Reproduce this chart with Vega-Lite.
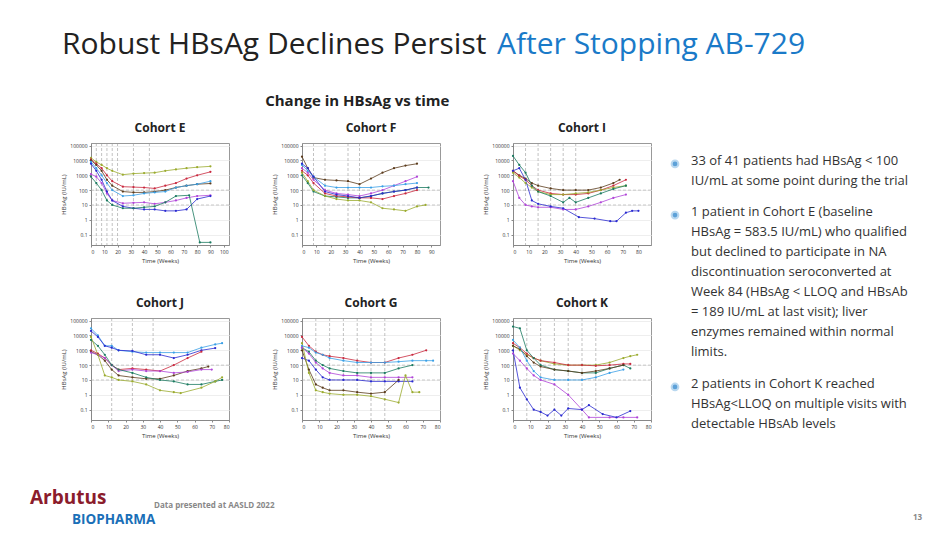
{
  "$schema": "https://vega.github.io/schema/vega-lite/v6.json",
  "background": "white",
  "padding": {"left": 8, "top": 20, "right": 10, "bottom": 0},
  "config": {
    "font": "Open Sans",
    "view": {"stroke": null},
    "axis": {"labelFontSize": 5, "titleFontSize": 6, "titleFontWeight": "normal", "labelColor": "#333", "titleColor": "#333", "grid": true, "gridColor": "#eee", "tickSize": 2, "domainColor": "#888", "titlePadding": 3},
    "text": {"lineBreak": "\n"}
  },
  "resolve": {"scale": {"color": "independent", "x": "independent", "y": "independent", "size": "independent"}},
  "datasets": {
    "d": [
      {"c":"E","k":"end","w":104},{"c":"F","k":"end","w":96},{"c":"I","k":"end","w":88},{"c":"J","k":"end","w":80},{"c":"G","k":"end","w":80},{"c":"K","k":"end","w":80},
      {"c":"E","k":"vl","w":4},{"c":"E","k":"vl","w":8},{"c":"E","k":"vl","w":12},{"c":"E","k":"vl","w":16},{"c":"E","k":"vl","w":20},{"c":"E","k":"vl","w":32},{"c":"E","k":"vl","w":44},
      {"c":"F","k":"vl","w":8},{"c":"F","k":"vl","w":16},{"c":"F","k":"vl","w":32},{"c":"F","k":"vl","w":40},
      {"c":"I","k":"vl","w":8},{"c":"I","k":"vl","w":16},{"c":"I","k":"vl","w":24},{"c":"I","k":"vl","w":32},{"c":"I","k":"vl","w":40},
      {"c":"J","k":"vl","w":12},{"c":"J","k":"vl","w":24},{"c":"J","k":"vl","w":36},
      {"c":"G","k":"vl","w":8},{"c":"G","k":"vl","w":16},{"c":"G","k":"vl","w":24},{"c":"G","k":"vl","w":32},{"c":"G","k":"vl","w":40},{"c":"G","k":"vl","w":48},
      {"c":"K","k":"vl","w":8},{"c":"K","k":"vl","w":16},{"c":"K","k":"vl","w":24},{"c":"K","k":"vl","w":32},{"c":"K","k":"vl","w":40},{"c":"K","k":"vl","w":48},

      {"c":"E","k":"p","s":"a","w":0,"v":15000},{"c":"E","k":"p","s":"a","w":4,"v":8000},{"c":"E","k":"p","s":"a","w":8,"v":5000},{"c":"E","k":"p","s":"a","w":12,"v":3000},{"c":"E","k":"p","s":"a","w":16,"v":2000},{"c":"E","k":"p","s":"a","w":24,"v":1100},{"c":"E","k":"p","s":"a","w":32,"v":1300},{"c":"E","k":"p","s":"a","w":40,"v":1400},{"c":"E","k":"p","s":"a","w":48,"v":1500},{"c":"E","k":"p","s":"a","w":56,"v":2000},{"c":"E","k":"p","s":"a","w":64,"v":2500},{"c":"E","k":"p","s":"a","w":72,"v":3000},{"c":"E","k":"p","s":"a","w":80,"v":3500},{"c":"E","k":"p","s":"a","w":90,"v":4000},
      {"c":"E","k":"p","s":"b","w":0,"v":12000},{"c":"E","k":"p","s":"b","w":4,"v":6000},{"c":"E","k":"p","s":"b","w":8,"v":3000},{"c":"E","k":"p","s":"b","w":12,"v":1000},{"c":"E","k":"p","s":"b","w":16,"v":400},{"c":"E","k":"p","s":"b","w":24,"v":170},{"c":"E","k":"p","s":"b","w":32,"v":160},{"c":"E","k":"p","s":"b","w":40,"v":150},{"c":"E","k":"p","s":"b","w":48,"v":130},{"c":"E","k":"p","s":"b","w":56,"v":200},{"c":"E","k":"p","s":"b","w":64,"v":300},{"c":"E","k":"p","s":"b","w":72,"v":600},{"c":"E","k":"p","s":"b","w":80,"v":1000},{"c":"E","k":"p","s":"b","w":90,"v":1700},
      {"c":"E","k":"p","s":"c","w":0,"v":10000},{"c":"E","k":"p","s":"c","w":4,"v":5000},{"c":"E","k":"p","s":"c","w":8,"v":2000},{"c":"E","k":"p","s":"c","w":12,"v":500},{"c":"E","k":"p","s":"c","w":16,"v":200},{"c":"E","k":"p","s":"c","w":24,"v":80},{"c":"E","k":"p","s":"c","w":32,"v":70},{"c":"E","k":"p","s":"c","w":40,"v":70},{"c":"E","k":"p","s":"c","w":48,"v":80},{"c":"E","k":"p","s":"c","w":56,"v":100},{"c":"E","k":"p","s":"c","w":64,"v":150},{"c":"E","k":"p","s":"c","w":72,"v":200},{"c":"E","k":"p","s":"c","w":80,"v":250},{"c":"E","k":"p","s":"c","w":90,"v":280},
      {"c":"E","k":"p","s":"d","w":0,"v":8000},{"c":"E","k":"p","s":"d","w":4,"v":3000},{"c":"E","k":"p","s":"d","w":8,"v":1000},{"c":"E","k":"p","s":"d","w":12,"v":300},{"c":"E","k":"p","s":"d","w":16,"v":100},{"c":"E","k":"p","s":"d","w":24,"v":40},{"c":"E","k":"p","s":"d","w":32,"v":45},{"c":"E","k":"p","s":"d","w":40,"v":60},{"c":"E","k":"p","s":"d","w":48,"v":70},{"c":"E","k":"p","s":"d","w":56,"v":80},{"c":"E","k":"p","s":"d","w":64,"v":150},{"c":"E","k":"p","s":"d","w":72,"v":200},{"c":"E","k":"p","s":"d","w":80,"v":250},{"c":"E","k":"p","s":"d","w":90,"v":400},
      {"c":"E","k":"p","s":"e","w":0,"v":1200},{"c":"E","k":"p","s":"e","w":4,"v":800},{"c":"E","k":"p","s":"e","w":8,"v":300},{"c":"E","k":"p","s":"e","w":12,"v":60},{"c":"E","k":"p","s":"e","w":16,"v":20},{"c":"E","k":"p","s":"e","w":24,"v":13},{"c":"E","k":"p","s":"e","w":32,"v":14},{"c":"E","k":"p","s":"e","w":40,"v":15},{"c":"E","k":"p","s":"e","w":48,"v":12},{"c":"E","k":"p","s":"e","w":56,"v":15},{"c":"E","k":"p","s":"e","w":64,"v":20},{"c":"E","k":"p","s":"e","w":72,"v":30},{"c":"E","k":"p","s":"e","w":80,"v":40},{"c":"E","k":"p","s":"e","w":90,"v":45},
      {"c":"E","k":"p","s":"f","w":0,"v":6000},{"c":"E","k":"p","s":"f","w":4,"v":2000},{"c":"E","k":"p","s":"f","w":8,"v":500},{"c":"E","k":"p","s":"f","w":12,"v":80},{"c":"E","k":"p","s":"f","w":16,"v":20},{"c":"E","k":"p","s":"f","w":24,"v":8},{"c":"E","k":"p","s":"f","w":32,"v":6},{"c":"E","k":"p","s":"f","w":40,"v":5},{"c":"E","k":"p","s":"f","w":48,"v":5},{"c":"E","k":"p","s":"f","w":56,"v":4},{"c":"E","k":"p","s":"f","w":64,"v":4},{"c":"E","k":"p","s":"f","w":72,"v":5},{"c":"E","k":"p","s":"f","w":80,"v":25},{"c":"E","k":"p","s":"f","w":90,"v":40},
      {"c":"E","k":"p","s":"g","w":0,"v":800},{"c":"E","k":"p","s":"g","w":4,"v":300},{"c":"E","k":"p","s":"g","w":8,"v":100},{"c":"E","k":"p","s":"g","w":12,"v":20},{"c":"E","k":"p","s":"g","w":16,"v":10},{"c":"E","k":"p","s":"g","w":24,"v":6},{"c":"E","k":"p","s":"g","w":32,"v":6},{"c":"E","k":"p","s":"g","w":40,"v":7},{"c":"E","k":"p","s":"g","w":48,"v":8},{"c":"E","k":"p","s":"g","w":56,"v":15},{"c":"E","k":"p","s":"g","w":64,"v":40},{"c":"E","k":"p","s":"g","w":74,"v":45},{"c":"E","k":"p","s":"g","w":82,"v":0.03},{"c":"E","k":"p","s":"g","w":90,"v":0.03},

      {"c":"F","k":"p","s":"c","w":0,"v":18000},{"c":"F","k":"p","s":"c","w":4,"v":3000},{"c":"F","k":"p","s":"c","w":8,"v":700},{"c":"F","k":"p","s":"c","w":16,"v":500},{"c":"F","k":"p","s":"c","w":24,"v":450},{"c":"F","k":"p","s":"c","w":32,"v":400},{"c":"F","k":"p","s":"c","w":40,"v":250},{"c":"F","k":"p","s":"c","w":48,"v":600},{"c":"F","k":"p","s":"c","w":56,"v":1500},{"c":"F","k":"p","s":"c","w":64,"v":3000},{"c":"F","k":"p","s":"c","w":72,"v":4500},{"c":"F","k":"p","s":"c","w":80,"v":6000},
      {"c":"F","k":"p","s":"e","w":0,"v":3000},{"c":"F","k":"p","s":"e","w":4,"v":1500},{"c":"F","k":"p","s":"e","w":8,"v":500},{"c":"F","k":"p","s":"e","w":16,"v":100},{"c":"F","k":"p","s":"e","w":24,"v":60},{"c":"F","k":"p","s":"e","w":32,"v":50},{"c":"F","k":"p","s":"e","w":40,"v":40},{"c":"F","k":"p","s":"e","w":48,"v":60},{"c":"F","k":"p","s":"e","w":56,"v":100},{"c":"F","k":"p","s":"e","w":64,"v":200},{"c":"F","k":"p","s":"e","w":72,"v":400},{"c":"F","k":"p","s":"e","w":80,"v":800},
      {"c":"F","k":"p","s":"d","w":0,"v":5000},{"c":"F","k":"p","s":"d","w":4,"v":2000},{"c":"F","k":"p","s":"d","w":8,"v":800},{"c":"F","k":"p","s":"d","w":16,"v":200},{"c":"F","k":"p","s":"d","w":24,"v":150},{"c":"F","k":"p","s":"d","w":32,"v":150},{"c":"F","k":"p","s":"d","w":40,"v":150},{"c":"F","k":"p","s":"d","w":48,"v":150},{"c":"F","k":"p","s":"d","w":56,"v":180},{"c":"F","k":"p","s":"d","w":64,"v":200},{"c":"F","k":"p","s":"d","w":72,"v":250},{"c":"F","k":"p","s":"d","w":80,"v":300},
      {"c":"F","k":"p","s":"g","w":0,"v":1000},{"c":"F","k":"p","s":"g","w":4,"v":300},{"c":"F","k":"p","s":"g","w":8,"v":80},{"c":"F","k":"p","s":"g","w":16,"v":40},{"c":"F","k":"p","s":"g","w":24,"v":35},{"c":"F","k":"p","s":"g","w":32,"v":30},{"c":"F","k":"p","s":"g","w":40,"v":30},{"c":"F","k":"p","s":"g","w":48,"v":40},{"c":"F","k":"p","s":"g","w":56,"v":60},{"c":"F","k":"p","s":"g","w":64,"v":80},{"c":"F","k":"p","s":"g","w":72,"v":100},{"c":"F","k":"p","s":"g","w":80,"v":150},{"c":"F","k":"p","s":"g","w":88,"v":150},
      {"c":"F","k":"p","s":"b","w":0,"v":2000},{"c":"F","k":"p","s":"b","w":4,"v":1000},{"c":"F","k":"p","s":"b","w":8,"v":300},{"c":"F","k":"p","s":"b","w":16,"v":60},{"c":"F","k":"p","s":"b","w":24,"v":40},{"c":"F","k":"p","s":"b","w":32,"v":35},{"c":"F","k":"p","s":"b","w":40,"v":30},{"c":"F","k":"p","s":"b","w":48,"v":30},{"c":"F","k":"p","s":"b","w":56,"v":25},{"c":"F","k":"p","s":"b","w":64,"v":40},{"c":"F","k":"p","s":"b","w":72,"v":60},{"c":"F","k":"p","s":"b","w":80,"v":100},
      {"c":"F","k":"p","s":"a","w":0,"v":1500},{"c":"F","k":"p","s":"a","w":4,"v":400},{"c":"F","k":"p","s":"a","w":8,"v":100},{"c":"F","k":"p","s":"a","w":16,"v":40},{"c":"F","k":"p","s":"a","w":24,"v":25},{"c":"F","k":"p","s":"a","w":32,"v":20},{"c":"F","k":"p","s":"a","w":40,"v":20},{"c":"F","k":"p","s":"a","w":48,"v":15},{"c":"F","k":"p","s":"a","w":56,"v":6},{"c":"F","k":"p","s":"a","w":64,"v":5},{"c":"F","k":"p","s":"a","w":72,"v":4},{"c":"F","k":"p","s":"a","w":80,"v":8},{"c":"F","k":"p","s":"a","w":86,"v":10},
      {"c":"F","k":"p","s":"f","w":0,"v":6000},{"c":"F","k":"p","s":"f","w":4,"v":3000},{"c":"F","k":"p","s":"f","w":8,"v":800},{"c":"F","k":"p","s":"f","w":16,"v":80},{"c":"F","k":"p","s":"f","w":24,"v":50},{"c":"F","k":"p","s":"f","w":32,"v":40},{"c":"F","k":"p","s":"f","w":40,"v":30},{"c":"F","k":"p","s":"f","w":48,"v":40},{"c":"F","k":"p","s":"f","w":56,"v":60},{"c":"F","k":"p","s":"f","w":64,"v":80},{"c":"F","k":"p","s":"f","w":72,"v":100},{"c":"F","k":"p","s":"f","w":80,"v":150},

      {"c":"I","k":"p","s":"c","w":0,"v":2000},{"c":"I","k":"p","s":"c","w":4,"v":1000},{"c":"I","k":"p","s":"c","w":8,"v":600},{"c":"I","k":"p","s":"c","w":12,"v":300},{"c":"I","k":"p","s":"c","w":16,"v":200},{"c":"I","k":"p","s":"c","w":24,"v":130},{"c":"I","k":"p","s":"c","w":32,"v":100},{"c":"I","k":"p","s":"c","w":40,"v":100},{"c":"I","k":"p","s":"c","w":48,"v":100},{"c":"I","k":"p","s":"c","w":56,"v":150},{"c":"I","k":"p","s":"c","w":64,"v":300},{"c":"I","k":"p","s":"c","w":68,"v":500},
      {"c":"I","k":"p","s":"b","w":0,"v":2000},{"c":"I","k":"p","s":"b","w":4,"v":900},{"c":"I","k":"p","s":"b","w":8,"v":500},{"c":"I","k":"p","s":"b","w":12,"v":200},{"c":"I","k":"p","s":"b","w":16,"v":100},{"c":"I","k":"p","s":"b","w":24,"v":60},{"c":"I","k":"p","s":"b","w":32,"v":50},{"c":"I","k":"p","s":"b","w":40,"v":50},{"c":"I","k":"p","s":"b","w":48,"v":60},{"c":"I","k":"p","s":"b","w":56,"v":100},{"c":"I","k":"p","s":"b","w":64,"v":200},{"c":"I","k":"p","s":"b","w":72,"v":500},
      {"c":"I","k":"p","s":"a","w":0,"v":1500},{"c":"I","k":"p","s":"a","w":4,"v":700},{"c":"I","k":"p","s":"a","w":8,"v":300},{"c":"I","k":"p","s":"a","w":12,"v":150},{"c":"I","k":"p","s":"a","w":16,"v":80},{"c":"I","k":"p","s":"a","w":24,"v":50},{"c":"I","k":"p","s":"a","w":32,"v":50},{"c":"I","k":"p","s":"a","w":40,"v":60},{"c":"I","k":"p","s":"a","w":48,"v":70},{"c":"I","k":"p","s":"a","w":56,"v":100},{"c":"I","k":"p","s":"a","w":64,"v":150},{"c":"I","k":"p","s":"a","w":72,"v":200},
      {"c":"I","k":"p","s":"g","w":0,"v":20000},{"c":"I","k":"p","s":"g","w":4,"v":5000},{"c":"I","k":"p","s":"g","w":8,"v":1500},{"c":"I","k":"p","s":"g","w":12,"v":200},{"c":"I","k":"p","s":"g","w":16,"v":80},{"c":"I","k":"p","s":"g","w":24,"v":40},{"c":"I","k":"p","s":"g","w":32,"v":15},{"c":"I","k":"p","s":"g","w":36,"v":30},{"c":"I","k":"p","s":"g","w":40,"v":15},{"c":"I","k":"p","s":"g","w":48,"v":30},{"c":"I","k":"p","s":"g","w":56,"v":60},{"c":"I","k":"p","s":"g","w":64,"v":120},{"c":"I","k":"p","s":"g","w":72,"v":200},
      {"c":"I","k":"p","s":"e","w":0,"v":400},{"c":"I","k":"p","s":"e","w":4,"v":30},{"c":"I","k":"p","s":"e","w":8,"v":10},{"c":"I","k":"p","s":"e","w":12,"v":8},{"c":"I","k":"p","s":"e","w":16,"v":7},{"c":"I","k":"p","s":"e","w":24,"v":7},{"c":"I","k":"p","s":"e","w":32,"v":5},{"c":"I","k":"p","s":"e","w":40,"v":5},{"c":"I","k":"p","s":"e","w":48,"v":8},{"c":"I","k":"p","s":"e","w":56,"v":15},{"c":"I","k":"p","s":"e","w":64,"v":30},{"c":"I","k":"p","s":"e","w":72,"v":50},
      {"c":"I","k":"p","s":"f","w":0,"v":2000},{"c":"I","k":"p","s":"f","w":4,"v":3000},{"c":"I","k":"p","s":"f","w":8,"v":500},{"c":"I","k":"p","s":"f","w":12,"v":20},{"c":"I","k":"p","s":"f","w":16,"v":12},{"c":"I","k":"p","s":"f","w":24,"v":8},{"c":"I","k":"p","s":"f","w":32,"v":6},{"c":"I","k":"p","s":"f","w":42,"v":1.5},{"c":"I","k":"p","s":"f","w":52,"v":1.2},{"c":"I","k":"p","s":"f","w":62,"v":0.8},{"c":"I","k":"p","s":"f","w":66,"v":0.8},{"c":"I","k":"p","s":"f","w":72,"v":3},{"c":"I","k":"p","s":"f","w":76,"v":4},{"c":"I","k":"p","s":"f","w":80,"v":4},

      {"c":"J","k":"p","s":"d","w":0,"v":30000},{"c":"J","k":"p","s":"d","w":4,"v":10000},{"c":"J","k":"p","s":"d","w":8,"v":2000},{"c":"J","k":"p","s":"d","w":12,"v":2000},{"c":"J","k":"p","s":"d","w":16,"v":1000},{"c":"J","k":"p","s":"d","w":24,"v":800},{"c":"J","k":"p","s":"d","w":32,"v":700},{"c":"J","k":"p","s":"d","w":40,"v":700},{"c":"J","k":"p","s":"d","w":48,"v":700},{"c":"J","k":"p","s":"d","w":56,"v":700},{"c":"J","k":"p","s":"d","w":64,"v":1500},{"c":"J","k":"p","s":"d","w":72,"v":2500},{"c":"J","k":"p","s":"d","w":76,"v":3000},
      {"c":"J","k":"p","s":"f","w":0,"v":20000},{"c":"J","k":"p","s":"f","w":4,"v":8000},{"c":"J","k":"p","s":"f","w":8,"v":2000},{"c":"J","k":"p","s":"f","w":12,"v":1500},{"c":"J","k":"p","s":"f","w":16,"v":1000},{"c":"J","k":"p","s":"f","w":24,"v":900},{"c":"J","k":"p","s":"f","w":32,"v":500},{"c":"J","k":"p","s":"f","w":40,"v":500},{"c":"J","k":"p","s":"f","w":48,"v":300},{"c":"J","k":"p","s":"f","w":56,"v":500},{"c":"J","k":"p","s":"f","w":64,"v":1000},{"c":"J","k":"p","s":"f","w":72,"v":1400},
      {"c":"J","k":"p","s":"b","w":0,"v":1000},{"c":"J","k":"p","s":"b","w":4,"v":600},{"c":"J","k":"p","s":"b","w":8,"v":300},{"c":"J","k":"p","s":"b","w":12,"v":100},{"c":"J","k":"p","s":"b","w":16,"v":50},{"c":"J","k":"p","s":"b","w":24,"v":60},{"c":"J","k":"p","s":"b","w":32,"v":50},{"c":"J","k":"p","s":"b","w":40,"v":40},{"c":"J","k":"p","s":"b","w":48,"v":100},{"c":"J","k":"p","s":"b","w":56,"v":300},{"c":"J","k":"p","s":"b","w":64,"v":800},
      {"c":"J","k":"p","s":"c","w":0,"v":800},{"c":"J","k":"p","s":"c","w":4,"v":500},{"c":"J","k":"p","s":"c","w":8,"v":200},{"c":"J","k":"p","s":"c","w":12,"v":50},{"c":"J","k":"p","s":"c","w":16,"v":20},{"c":"J","k":"p","s":"c","w":24,"v":15},{"c":"J","k":"p","s":"c","w":32,"v":12},{"c":"J","k":"p","s":"c","w":40,"v":12},{"c":"J","k":"p","s":"c","w":48,"v":20},{"c":"J","k":"p","s":"c","w":56,"v":40},{"c":"J","k":"p","s":"c","w":64,"v":60},{"c":"J","k":"p","s":"c","w":68,"v":80},
      {"c":"J","k":"p","s":"e","w":0,"v":700},{"c":"J","k":"p","s":"e","w":4,"v":500},{"c":"J","k":"p","s":"e","w":8,"v":300},{"c":"J","k":"p","s":"e","w":12,"v":100},{"c":"J","k":"p","s":"e","w":16,"v":40},{"c":"J","k":"p","s":"e","w":24,"v":50},{"c":"J","k":"p","s":"e","w":32,"v":40},{"c":"J","k":"p","s":"e","w":40,"v":40},{"c":"J","k":"p","s":"e","w":48,"v":30},{"c":"J","k":"p","s":"e","w":56,"v":35},{"c":"J","k":"p","s":"e","w":64,"v":50},{"c":"J","k":"p","s":"e","w":70,"v":50},
      {"c":"J","k":"p","s":"g","w":0,"v":5000},{"c":"J","k":"p","s":"g","w":4,"v":2000},{"c":"J","k":"p","s":"g","w":8,"v":500},{"c":"J","k":"p","s":"g","w":12,"v":100},{"c":"J","k":"p","s":"g","w":16,"v":50},{"c":"J","k":"p","s":"g","w":24,"v":30},{"c":"J","k":"p","s":"g","w":32,"v":15},{"c":"J","k":"p","s":"g","w":40,"v":10},{"c":"J","k":"p","s":"g","w":48,"v":8},{"c":"J","k":"p","s":"g","w":56,"v":5},{"c":"J","k":"p","s":"g","w":64,"v":5},{"c":"J","k":"p","s":"g","w":72,"v":8},{"c":"J","k":"p","s":"g","w":76,"v":10},
      {"c":"J","k":"p","s":"a","w":0,"v":8000},{"c":"J","k":"p","s":"a","w":4,"v":500},{"c":"J","k":"p","s":"a","w":8,"v":20},{"c":"J","k":"p","s":"a","w":12,"v":15},{"c":"J","k":"p","s":"a","w":16,"v":10},{"c":"J","k":"p","s":"a","w":24,"v":8},{"c":"J","k":"p","s":"a","w":32,"v":5},{"c":"J","k":"p","s":"a","w":40,"v":2},{"c":"J","k":"p","s":"a","w":48,"v":1.5},{"c":"J","k":"p","s":"a","w":52,"v":1.3},{"c":"J","k":"p","s":"a","w":64,"v":3},{"c":"J","k":"p","s":"a","w":72,"v":8},{"c":"J","k":"p","s":"a","w":76,"v":15},

      {"c":"G","k":"p","s":"b","w":0,"v":8000},{"c":"G","k":"p","s":"b","w":4,"v":2000},{"c":"G","k":"p","s":"b","w":8,"v":800},{"c":"G","k":"p","s":"b","w":12,"v":500},{"c":"G","k":"p","s":"b","w":16,"v":400},{"c":"G","k":"p","s":"b","w":24,"v":300},{"c":"G","k":"p","s":"b","w":32,"v":200},{"c":"G","k":"p","s":"b","w":40,"v":150},{"c":"G","k":"p","s":"b","w":48,"v":150},{"c":"G","k":"p","s":"b","w":56,"v":300},{"c":"G","k":"p","s":"b","w":64,"v":500},{"c":"G","k":"p","s":"b","w":72,"v":1000},
      {"c":"G","k":"p","s":"d","w":0,"v":2000},{"c":"G","k":"p","s":"d","w":4,"v":1500},{"c":"G","k":"p","s":"d","w":8,"v":700},{"c":"G","k":"p","s":"d","w":12,"v":500},{"c":"G","k":"p","s":"d","w":16,"v":300},{"c":"G","k":"p","s":"d","w":24,"v":200},{"c":"G","k":"p","s":"d","w":32,"v":150},{"c":"G","k":"p","s":"d","w":40,"v":150},{"c":"G","k":"p","s":"d","w":48,"v":150},{"c":"G","k":"p","s":"d","w":56,"v":170},{"c":"G","k":"p","s":"d","w":64,"v":200},{"c":"G","k":"p","s":"d","w":72,"v":200},{"c":"G","k":"p","s":"d","w":76,"v":200},
      {"c":"G","k":"p","s":"g","w":0,"v":1500},{"c":"G","k":"p","s":"g","w":4,"v":800},{"c":"G","k":"p","s":"g","w":8,"v":200},{"c":"G","k":"p","s":"g","w":12,"v":100},{"c":"G","k":"p","s":"g","w":16,"v":60},{"c":"G","k":"p","s":"g","w":24,"v":40},{"c":"G","k":"p","s":"g","w":32,"v":30},{"c":"G","k":"p","s":"g","w":40,"v":30},{"c":"G","k":"p","s":"g","w":48,"v":30},{"c":"G","k":"p","s":"g","w":56,"v":60},{"c":"G","k":"p","s":"g","w":64,"v":100},
      {"c":"G","k":"p","s":"e","w":0,"v":1500},{"c":"G","k":"p","s":"e","w":4,"v":600},{"c":"G","k":"p","s":"e","w":8,"v":150},{"c":"G","k":"p","s":"e","w":12,"v":60},{"c":"G","k":"p","s":"e","w":16,"v":30},{"c":"G","k":"p","s":"e","w":24,"v":20},{"c":"G","k":"p","s":"e","w":32,"v":20},{"c":"G","k":"p","s":"e","w":40,"v":15},{"c":"G","k":"p","s":"e","w":48,"v":15},{"c":"G","k":"p","s":"e","w":56,"v":15},{"c":"G","k":"p","s":"e","w":64,"v":15},
      {"c":"G","k":"p","s":"f","w":0,"v":300},{"c":"G","k":"p","s":"f","w":4,"v":200},{"c":"G","k":"p","s":"f","w":8,"v":50},{"c":"G","k":"p","s":"f","w":12,"v":15},{"c":"G","k":"p","s":"f","w":16,"v":10},{"c":"G","k":"p","s":"f","w":24,"v":10},{"c":"G","k":"p","s":"f","w":32,"v":10},{"c":"G","k":"p","s":"f","w":40,"v":8},{"c":"G","k":"p","s":"f","w":48,"v":8},{"c":"G","k":"p","s":"f","w":56,"v":8},{"c":"G","k":"p","s":"f","w":64,"v":8},
      {"c":"G","k":"p","s":"c","w":0,"v":1000},{"c":"G","k":"p","s":"c","w":4,"v":50},{"c":"G","k":"p","s":"c","w":8,"v":5},{"c":"G","k":"p","s":"c","w":12,"v":3},{"c":"G","k":"p","s":"c","w":16,"v":2},{"c":"G","k":"p","s":"c","w":24,"v":2},{"c":"G","k":"p","s":"c","w":32,"v":1.5},{"c":"G","k":"p","s":"c","w":40,"v":1.2},{"c":"G","k":"p","s":"c","w":48,"v":1.5},{"c":"G","k":"p","s":"c","w":56,"v":10},
      {"c":"G","k":"p","s":"a","w":0,"v":3000},{"c":"G","k":"p","s":"a","w":4,"v":30},{"c":"G","k":"p","s":"a","w":8,"v":2},{"c":"G","k":"p","s":"a","w":12,"v":1.5},{"c":"G","k":"p","s":"a","w":16,"v":1.2},{"c":"G","k":"p","s":"a","w":24,"v":1},{"c":"G","k":"p","s":"a","w":32,"v":1},{"c":"G","k":"p","s":"a","w":40,"v":0.8},{"c":"G","k":"p","s":"a","w":48,"v":0.5},{"c":"G","k":"p","s":"a","w":56,"v":0.3},{"c":"G","k":"p","s":"a","w":60,"v":20},{"c":"G","k":"p","s":"a","w":64,"v":1.5},{"c":"G","k":"p","s":"a","w":68,"v":1.5},

      {"c":"K","k":"p","s":"a","w":0,"v":2000},{"c":"K","k":"p","s":"a","w":4,"v":1000},{"c":"K","k":"p","s":"a","w":8,"v":500},{"c":"K","k":"p","s":"a","w":12,"v":300},{"c":"K","k":"p","s":"a","w":16,"v":200},{"c":"K","k":"p","s":"a","w":24,"v":120},{"c":"K","k":"p","s":"a","w":32,"v":100},{"c":"K","k":"p","s":"a","w":40,"v":100},{"c":"K","k":"p","s":"a","w":48,"v":100},{"c":"K","k":"p","s":"a","w":56,"v":150},{"c":"K","k":"p","s":"a","w":64,"v":300},{"c":"K","k":"p","s":"a","w":68,"v":400},{"c":"K","k":"p","s":"a","w":72,"v":500},
      {"c":"K","k":"p","s":"b","w":0,"v":3000},{"c":"K","k":"p","s":"b","w":4,"v":1500},{"c":"K","k":"p","s":"b","w":8,"v":600},{"c":"K","k":"p","s":"b","w":12,"v":300},{"c":"K","k":"p","s":"b","w":16,"v":200},{"c":"K","k":"p","s":"b","w":24,"v":150},{"c":"K","k":"p","s":"b","w":32,"v":100},{"c":"K","k":"p","s":"b","w":40,"v":100},{"c":"K","k":"p","s":"b","w":48,"v":90},{"c":"K","k":"p","s":"b","w":56,"v":100},{"c":"K","k":"p","s":"b","w":64,"v":120},{"c":"K","k":"p","s":"b","w":68,"v":120},
      {"c":"K","k":"p","s":"g","w":0,"v":40000},{"c":"K","k":"p","s":"g","w":4,"v":30000},{"c":"K","k":"p","s":"g","w":8,"v":1000},{"c":"K","k":"p","s":"g","w":12,"v":300},{"c":"K","k":"p","s":"g","w":16,"v":100},{"c":"K","k":"p","s":"g","w":24,"v":50},{"c":"K","k":"p","s":"g","w":32,"v":40},{"c":"K","k":"p","s":"g","w":40,"v":30},{"c":"K","k":"p","s":"g","w":48,"v":30},{"c":"K","k":"p","s":"g","w":56,"v":60},{"c":"K","k":"p","s":"g","w":64,"v":100},{"c":"K","k":"p","s":"g","w":68,"v":60},
      {"c":"K","k":"p","s":"c","w":0,"v":2000},{"c":"K","k":"p","s":"c","w":4,"v":1200},{"c":"K","k":"p","s":"c","w":8,"v":400},{"c":"K","k":"p","s":"c","w":12,"v":150},{"c":"K","k":"p","s":"c","w":16,"v":80},{"c":"K","k":"p","s":"c","w":24,"v":50},{"c":"K","k":"p","s":"c","w":32,"v":40},{"c":"K","k":"p","s":"c","w":40,"v":30},{"c":"K","k":"p","s":"c","w":48,"v":40},{"c":"K","k":"p","s":"c","w":56,"v":60},{"c":"K","k":"p","s":"c","w":64,"v":100},
      {"c":"K","k":"p","s":"d","w":0,"v":5000},{"c":"K","k":"p","s":"d","w":4,"v":1500},{"c":"K","k":"p","s":"d","w":8,"v":200},{"c":"K","k":"p","s":"d","w":12,"v":40},{"c":"K","k":"p","s":"d","w":16,"v":15},{"c":"K","k":"p","s":"d","w":24,"v":10},{"c":"K","k":"p","s":"d","w":32,"v":10},{"c":"K","k":"p","s":"d","w":40,"v":10},{"c":"K","k":"p","s":"d","w":48,"v":15},{"c":"K","k":"p","s":"d","w":56,"v":30},{"c":"K","k":"p","s":"d","w":64,"v":50},
      {"c":"K","k":"p","s":"e","w":0,"v":600},{"c":"K","k":"p","s":"e","w":4,"v":200},{"c":"K","k":"p","s":"e","w":8,"v":60},{"c":"K","k":"p","s":"e","w":12,"v":20},{"c":"K","k":"p","s":"e","w":16,"v":10},{"c":"K","k":"p","s":"e","w":24,"v":5},{"c":"K","k":"p","s":"e","w":32,"v":1},{"c":"K","k":"p","s":"e","w":40,"v":0.1},{"c":"K","k":"p","s":"e","w":44,"v":0.03},{"c":"K","k":"p","s":"e","w":56,"v":0.03},{"c":"K","k":"p","s":"e","w":64,"v":0.03},{"c":"K","k":"p","s":"e","w":72,"v":0.03},
      {"c":"K","k":"p","s":"f","w":0,"v":1000},{"c":"K","k":"p","s":"f","w":4,"v":3},{"c":"K","k":"p","s":"f","w":8,"v":0.5},{"c":"K","k":"p","s":"f","w":12,"v":0.1},{"c":"K","k":"p","s":"f","w":16,"v":0.07},{"c":"K","k":"p","s":"f","w":20,"v":0.04},{"c":"K","k":"p","s":"f","w":24,"v":0.1},{"c":"K","k":"p","s":"f","w":28,"v":0.04},{"c":"K","k":"p","s":"f","w":32,"v":0.12},{"c":"K","k":"p","s":"f","w":40,"v":0.1},{"c":"K","k":"p","s":"f","w":44,"v":0.2},{"c":"K","k":"p","s":"f","w":52,"v":0.05},{"c":"K","k":"p","s":"f","w":60,"v":0.03},{"c":"K","k":"p","s":"f","w":68,"v":0.08}
    ],
    "bullets": [
      {"y": 13, "t": "33 of 41 patients had HBsAg < 100\nIU/mL at some point during the trial"},
      {"y": 69, "t": "1 patient in Cohort E (baseline\nHBsAg = 583.5 IU/mL) who qualified\nbut declined to participate in NA\ndiscontinuation seroconverted at\nWeek 84 (HBsAg < LLOQ and HBsAb\n= 189 IU/mL at last visit); liver\nenzymes remained within normal\nlimits."},
      {"y": 257, "t": "2 patients in Cohort K reached\nHBsAg<LLOQ on multiple visits with\ndetectable HBsAb levels"}
    ]
  },
  "vconcat": [
    {
      "width": 880, "height": 50,
      "data": {"values": [
        {"x": 54, "t": "Robust HBsAg Declines Persist", "b": "n"},
        {"x": 489, "t": "After Stopping AB-729", "b": "y"}
      ]},
      "mark": {"type": "text", "align": "left", "baseline": "middle", "fontSize": 30, "font": "Open Sans"},
      "encoding": {
        "x": {"field": "x", "type": "quantitative", "scale": {"domain": [0, 880]}, "axis": null},
        "y": {"datum": 0.5, "type": "quantitative", "scale": {"domain": [0, 1]}, "axis": null},
        "text": {"field": "t"},
        "color": {"field": "b", "type": "nominal", "scale": {"domain": ["n", "y"], "range": ["#222222", "#1a7ac8"]}, "legend": null}
      }
    },
    {
      "hconcat": [
        {
          "width": 40, "height": 10,
          "data": {"values": [{"x": 0}]},
          "mark": {"type": "point", "opacity": 0},
          "encoding": {"x": {"field": "x", "type": "quantitative", "axis": null}}
        },
        {
          "data": {"name": "d"},
          "title": {"text": "Change in HBsAg vs time", "fontSize": 15, "fontWeight": "bold", "color": "#222", "anchor": "middle", "offset": 12},
          "facet": {"field": "c", "type": "nominal", "sort": ["E", "F", "I", "J", "G", "K"], "title": null,
            "header": {"labelExpr": "'Cohort ' + datum.value", "labelFontWeight": "bold", "labelFontSize": 12, "labelPadding": 8, "labelColor": "#222"}},
          "columns": 3,
          "spacing": {"column": 38, "row": 32},
          "resolve": {"scale": {"x": "independent", "y": "independent"}, "axis": {"x": "independent", "y": "independent"}},
          "spec": {
            "width": 138, "height": 102,
            "view": {"stroke": "#999"},
            "layer": [
              {"transform": [{"filter": "datum.k == 'end'"}], "mark": {"type": "rule", "strokeDash": [3, 2], "color": "#aaa", "size": 0.6}, "encoding": {"y": {"datum": 100, "type": "quantitative"}}},
              {"transform": [{"filter": "datum.k == 'end'"}], "mark": {"type": "rule", "strokeDash": [3, 2], "color": "#aaa", "size": 0.6}, "encoding": {"y": {"datum": 10, "type": "quantitative"}}},
              {"transform": [{"filter": "datum.k == 'vl'"}], "mark": {"type": "rule", "strokeDash": [3, 2], "color": "#999", "size": 0.6}, "encoding": {"x": {"field": "w", "type": "quantitative"}}},
              {"transform": [{"filter": "datum.k == 'end'"}], "mark": {"type": "point", "opacity": 0}, "encoding": {"x": {"field": "w", "type": "quantitative"}, "y": {"datum": 1, "type": "quantitative"}}},
              {
                "transform": [{"filter": "datum.k == 'p'"}],
                "mark": {"type": "line", "strokeWidth": 0.8, "point": {"size": 5, "filled": true}},
                "encoding": {
                  "x": {"field": "w", "type": "quantitative", "title": "Time (Weeks)", "scale": {"nice": false}, "axis": {"tickCount": 10, "grid": false}},
                  "y": {"field": "v", "type": "quantitative", "title": "HBsAg (IU/mL)", "scale": {"type": "log", "domain": [0.02, 150000], "nice": false},
                    "axis": {"values": [0.1, 1, 10, 100, 1000, 10000, 100000], "labelExpr": "format(datum.value, '~g')"}},
                  "color": {"field": "s", "type": "nominal", "legend": null,
                    "scale": {"domain": ["a", "b", "c", "d", "e", "f", "g"], "range": ["#9bab2e", "#c9283e", "#5b3b1c", "#3aa0e6", "#b044d8", "#2a2ad0", "#1a7a60"]}},
                  "detail": {"field": "s"}
                }
              }
            ]
          }
        },
        {
          "width": 280, "height": 320,
          "data": {"name": "bullets"},
          "layer": [
            {
              "mark": {"type": "point", "shape": "circle", "filled": true, "size": 45, "color": "#1a7ac8", "stroke": "#9cc8ea", "strokeWidth": 2, "yOffset": 9},
              "encoding": {
                "x": {"datum": 0, "type": "quantitative", "scale": {"domain": [0, 280]}, "axis": null},
                "y": {"field": "y", "type": "quantitative", "scale": {"domain": [0, 320], "reverse": true}, "axis": null}
              }
            },
            {
              "mark": {"type": "text", "align": "left", "baseline": "top", "fontSize": 13, "lineHeight": 20, "color": "#333", "dx": 16},
              "encoding": {
                "x": {"datum": 0, "type": "quantitative"},
                "y": {"field": "y", "type": "quantitative"},
                "text": {"field": "t"}
              }
            }
          ]
        }
      ],
      "spacing": 12,
      "resolve": {"scale": {"x": "independent", "y": "independent"}}
    },
    {
      "width": 930, "height": 40,
      "data": {"values": [
        {"x": 22, "y": 11, "t": "Arbutus", "k": "logo"},
        {"x": 64, "y": 33, "t": "BIOPHARMA", "k": "bio"},
        {"x": 146, "y": 19, "t": "Data presented at AASLD 2022", "k": "note"},
        {"x": 905, "y": 31, "t": "13", "k": "note"}
      ]},
      "mark": {"type": "text", "align": "left", "baseline": "middle", "fontWeight": "bold"},
      "encoding": {
        "x": {"field": "x", "type": "quantitative", "scale": {"domain": [0, 930]}, "axis": null},
        "y": {"field": "y", "type": "quantitative", "scale": {"domain": [0, 40], "reverse": true}, "axis": null},
        "text": {"field": "t"},
        "color": {"field": "k", "type": "nominal", "scale": {"domain": ["logo", "bio", "note"], "range": ["#8b1c2c", "#1a6fb8", "#888888"]}, "legend": null},
        "size": {"field": "k", "type": "nominal", "scale": {"domain": ["logo", "bio", "note"], "range": [19, 8, 9]}, "legend": null}
      }
    }
  ],
  "spacing": 24
}
